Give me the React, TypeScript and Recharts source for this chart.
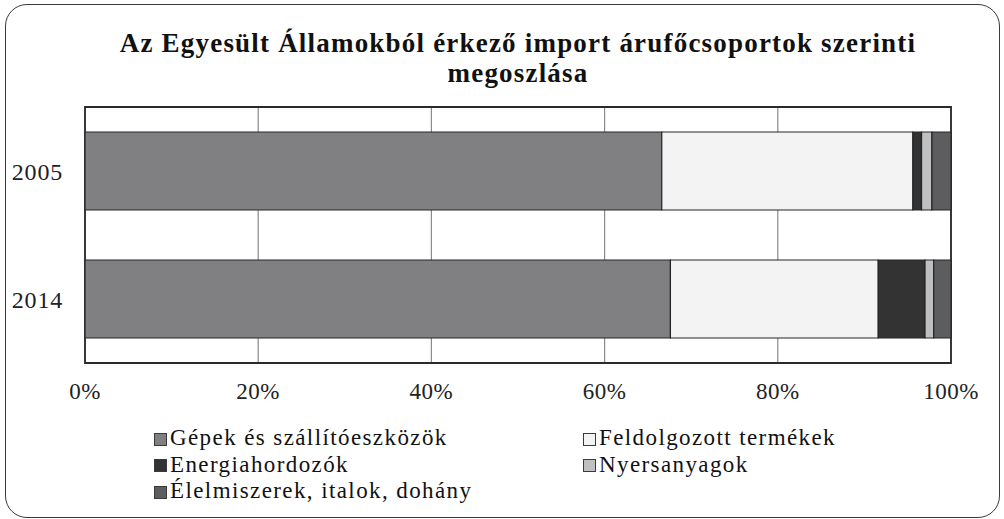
import { Bar, BarChart, CartesianGrid, ReferenceArea, XAxis, YAxis } from "recharts";

const years = ["2005", "2014"];
const gepek = [66.6, 67.6];
const feldolgozott = [29.0, 24.0];
const energia = [1.0, 5.4];
const nyers = [1.2, 1.0];
const elelmiszer = [2.2, 2.0];
const xTicks = [0, 20, 40, 60, 80, 100];

const series = [
  { key: "gepek", name: "Gépek és szállítóeszközök", color: "#808083", values: gepek },
  { key: "feldolgozott", name: "Feldolgozott termékek", color: "#f2f3f2", values: feldolgozott },
  { key: "energia", name: "Energiahordozók", color: "#333333", values: energia },
  { key: "nyers", name: "Nyersanyagok", color: "#bfc0c2", values: nyers },
  { key: "elelmiszer", name: "Élelmiszerek, italok, dohány", color: "#5d5d5f", values: elelmiszer }
];

const data = years.map((year, i) => {
  const row: Record<string, string | number> = { year };
  series.forEach((s) => {
    row[s.key] = s.values[i];
  });
  return row;
});

const FONT = "'Liberation Serif', 'Times New Roman', serif";

function LegendItem({ name, color }: { name: string; color: string }) {
  return (
    <div style={{ display: "flex", alignItems: "center", height: 26.5, whiteSpace: "nowrap" }}>
      <span
        style={{
          display: "inline-block",
          width: 13,
          height: 13,
          background: color,
          border: "1px solid #3a3a3a",
          boxSizing: "border-box",
          marginRight: 3,
          position: "relative",
          top: 1
        }}
      />
      <span>{name}</span>
    </div>
  );
}

export default function App() {
  return (
    <div style={{ position: "absolute", left: 0, top: 0, width: 1004, height: 519, background: "#fff", fontFamily: FONT, color: "#111" }}>
      <div
        style={{
          position: "absolute",
          left: 5,
          top: 4,
          width: 995,
          height: 514,
          border: "1.5px solid #3a3a3a",
          borderRadius: 22,
          boxSizing: "border-box"
        }}
      />
      <div
        style={{
          position: "absolute",
          left: 32,
          width: 972,
          top: 28,
          textAlign: "center",
          fontWeight: "bold",
          fontSize: 27,
          letterSpacing: 1.2,
          lineHeight: "30px",
          whiteSpace: "nowrap"
        }}
      >
        <div>Az Egyesült Államokból érkező import árufőcsoportok szerinti</div>
        <div>megoszlása</div>
      </div>
      <BarChart
        width={1004}
        height={519}
        data={data}
        layout="vertical"
        barSize={78}
        margin={{ top: 107, right: 53, bottom: 126, left: 0 }}
        style={{ position: "absolute", left: 0, top: 0 }}
      >
        <CartesianGrid horizontal={false} stroke="#8a8a8a" strokeWidth={1.2} />
        <XAxis
          type="number"
          domain={[0, 100]}
          ticks={xTicks}
          tickFormatter={(v: number) => `${v}%`}
          axisLine={false}
          tickLine={false}
          tickSize={0}
          tickMargin={20}
          height={30}
          tick={{ fontSize: 23, fill: "#222", fontFamily: FONT, letterSpacing: 0.5 }}
        />
        <YAxis
          type="category"
          dataKey="year"
          axisLine={false}
          tickLine={false}
          tickSize={0}
          tickMargin={22}
          width={85}
          tick={{ fontSize: 24, fill: "#222", fontFamily: FONT, letterSpacing: 0.8 }}
        />
        {series.map((s) => (
          <Bar key={s.key} dataKey={s.key} name={s.name} stackId="a" fill={s.color} stroke="#262626" strokeWidth={1.2} isAnimationActive={false} />
        ))}
        <ReferenceArea x1={0} x2={100} fill="none" stroke="#2a2a2a" strokeWidth={1.8} fillOpacity={0} />
      </BarChart>
      <div
        style={{
          position: "absolute",
          left: 154,
          top: 425,
          fontSize: 23,
          letterSpacing: 1.4,
          display: "grid",
          gridTemplateColumns: "429px auto"
        }}
      >
        {series.map((s) => (
          <LegendItem key={s.key} name={s.name} color={s.color} />
        ))}
      </div>
    </div>
  );
}
